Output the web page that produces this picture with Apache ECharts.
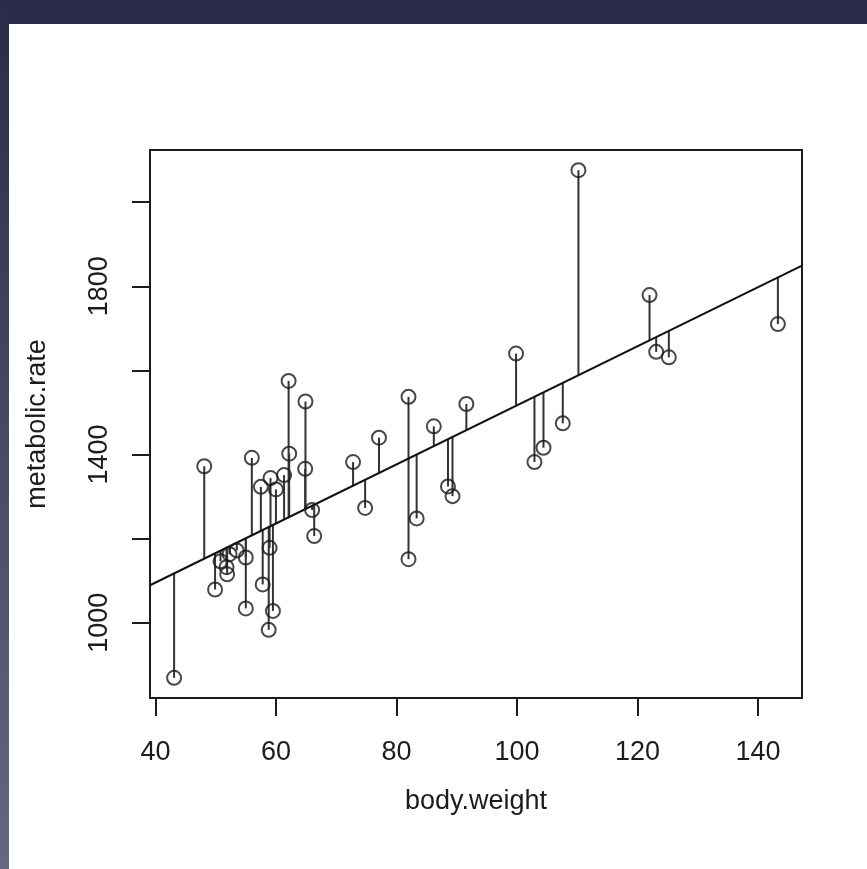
<!DOCTYPE html>
<html>
<head>
<meta charset="utf-8">
<script src="https://cdn.jsdelivr.net/npm/echarts@6/dist/echarts.min.js"></script>
<style>
html,body{margin:0;padding:0;background:#fff;}
#chart{width:867px;height:869px;}
</style>
</head>
<body>
<div id="chart"></div>
<script>
// ---- data ----
const bodyWeight = [43.1, 48.1, 49.9, 50.8, 51.8, 51.9, 52.3, 53.5, 55.0, 55.0, 56.0, 57.5, 57.8, 59.1, 58.95, 58.8, 59.5, 60.0, 61.35, 62.2, 62.1, 64.9, 64.85, 66.0, 66.35, 72.8, 74.8, 77.1, 82.0, 82.0, 83.35, 86.2, 88.55, 89.3, 91.6, 99.85, 102.9, 104.4, 107.6, 110.2, 122.0, 123.1, 125.2, 143.3];
const metabolicRate = [869, 1372, 1079, 1146, 1132, 1115, 1163, 1172, 1155, 1034, 1392, 1323, 1091, 1344, 1178, 983, 1028, 1317, 1351, 1402, 1575, 1526, 1366, 1268, 1206, 1382, 1273, 1440, 1537, 1151, 1248, 1467, 1324, 1301, 1520, 1640, 1382, 1416, 1474, 2076, 1779, 1644, 1631, 1710];
// fitted regression line
const fitIntercept = 814.4;
const fitSlope = 7.024;
// axis limits and ticks
const xLimits = [39.1, 147.3];
const yLimits = [821, 2124];
const xTicks = [40, 60, 80, 100, 120, 140];
const yTicks = [1000, 1200, 1400, 1600, 1800, 2000];
const yTickLabels = [1000, 1400, 1800];
const xTitle = 'body.weight';
const yTitle = 'metabolic.rate';

const fit = x => fitIntercept + fitSlope * x;
const points = bodyWeight.map((x, i) => [x, metabolicRate[i]]);
const residuals = bodyWeight.map((x, i) => [x, metabolicRate[i], fit(x)]);
const fitLine = xLimits.map(x => [x, fit(x)]);

const FONT = '"Liberation Sans", Arial, Helvetica, sans-serif';
const INK = '#1c1c1c';

const chart = echarts.init(document.getElementById('chart'), null, {renderer: 'canvas'});
chart.setOption({
  animation: false,
  backgroundColor: '#ffffff',
  graphic: [
    {type: 'rect', left: 0, top: 0, shape: {width: 867, height: 24}, style: {fill: '#2b2a49'}, z: 100},
    {type: 'rect', left: 0, top: 0, shape: {width: 9, height: 869},
      style: {fill: new echarts.graphic.LinearGradient(0, 0, 0, 1, [
        {offset: 0, color: '#2b2a49'}, {offset: 1, color: '#67667f'}])}, z: 100}
  ],
  grid: {left: 150, top: 150, width: 652, height: 548, show: true, borderColor: INK, borderWidth: 2, backgroundColor: 'transparent'},
  xAxis: {
    type: 'value', min: xLimits[0], max: xLimits[1],
    name: xTitle, nameLocation: 'middle', nameGap: 90,
    nameTextStyle: {fontFamily: FONT, fontSize: 27, color: INK},
    axisLine: {show: true, onZero: false, lineStyle: {color: INK, width: 2}},
    axisTick: {show: true, inside: false, length: 18, customValues: xTicks, lineStyle: {color: INK, width: 2}},
    axisLabel: {show: true, customValues: xTicks, margin: 41, fontFamily: FONT, fontSize: 27, color: INK,
      formatter: v => String(v)},
    splitLine: {show: false}
  },
  yAxis: {
    type: 'value', min: yLimits[0], max: yLimits[1],
    name: yTitle, nameLocation: 'middle', nameGap: 99,
    nameTextStyle: {fontFamily: FONT, fontSize: 27, color: INK},
    axisLine: {show: true, onZero: false, lineStyle: {color: INK, width: 2}},
    axisTick: {show: true, inside: false, length: 18, customValues: yTicks, lineStyle: {color: INK, width: 2}},
    axisLabel: {show: true, customValues: yTickLabels, rotate: 90, margin: 37, fontFamily: FONT, fontSize: 27, color: INK,
      formatter: v => String(v)},
    splitLine: {show: false}
  },
  series: [
    {
      type: 'custom',
      data: residuals,
      renderItem: function (params, api) {
        const p1 = api.coord([api.value(0), api.value(1)]);
        const p2 = api.coord([api.value(0), api.value(2)]);
        return {type: 'line', shape: {x1: p1[0], y1: p1[1], x2: p2[0], y2: p2[1]},
          style: {stroke: '#333', lineWidth: 2}};
      },
      z: 2, silent: true
    },
    {
      type: 'line', data: fitLine, showSymbol: false, symbol: 'none',
      lineStyle: {color: '#111', width: 2}, z: 3, silent: true
    },
    {
      type: 'scatter', data: points, symbol: 'circle', symbolSize: 14,
      itemStyle: {color: 'rgba(0,0,0,0)', borderColor: '#1a1a1a', borderWidth: 2},
      z: 4, silent: true
    }
  ]
});
</script>
</body>
</html>
